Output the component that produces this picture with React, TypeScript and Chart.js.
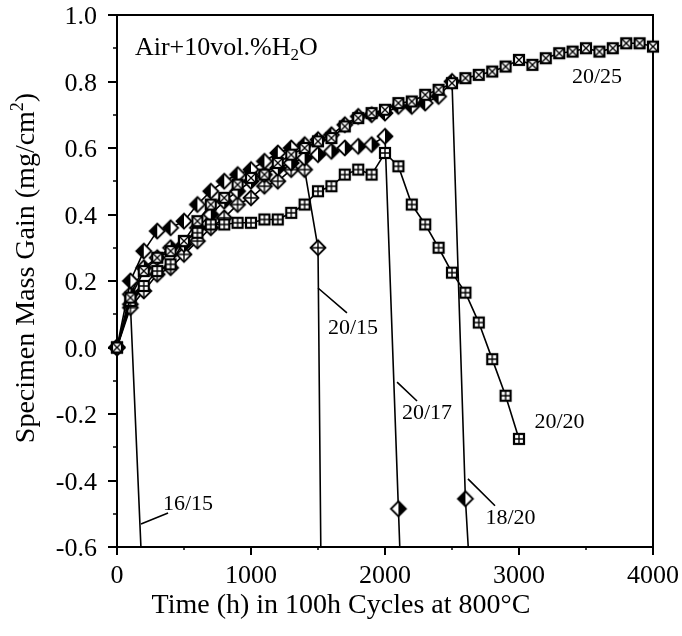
import React, { useEffect, useRef } from "react";
import { Chart, registerables } from "chart.js";
Chart.register(...registerables);

const FONT = "'Liberation Serif', 'Times New Roman', serif";

// ---- data ----
const t2025 = [0,100,200,300,400,500,600,700,800,900,1000,1100,1200,1300,1400,1500,1600,1700,1800,1900,2000,2100,2200,2300,2400,2500,2600,2700,2800,2900,3000,3100,3200,3300,3400,3500,3600,3700,3800,3900,4000];
const v2025 = [0,0.15,0.23,0.27,0.29,0.32,0.38,0.43,0.45,0.49,0.51,0.52,0.555,0.58,0.60,0.62,0.63,0.665,0.69,0.705,0.715,0.735,0.74,0.76,0.775,0.795,0.81,0.82,0.83,0.845,0.865,0.85,0.87,0.885,0.89,0.90,0.89,0.90,0.915,0.915,0.905];

const t2020 = [0,100,200,300,400,500,600,700,800,900,1000,1100,1200,1300,1400,1500,1600,1700,1800,1900,2000,2100,2200,2300,2400,2500,2600,2700,2800,2900,3000];
const v2020 = [0,0.14,0.185,0.23,0.25,0.32,0.345,0.37,0.37,0.375,0.375,0.385,0.385,0.405,0.43,0.47,0.485,0.52,0.535,0.52,0.585,0.545,0.43,0.37,0.30,0.225,0.165,0.075,-0.035,-0.145,-0.275];

const t2015 = [0,100,200,300,400,500,600,700,800,900,1000,1100,1200,1300,1400,1500,1600];
const v2015 = [0,0.12,0.17,0.22,0.24,0.28,0.32,0.36,0.39,0.43,0.45,0.485,0.50,0.535,0.535,0.30,-4.0];

const t1820 = [0,100,200,300,400,500,600,700,800,900,1000,1100,1200,1300,1400,1500,1600,1700,1800,1900,2000,2100,2200,2300,2400,2500,2600,2700];
const v1820 = [0,0.20,0.29,0.35,0.36,0.38,0.43,0.47,0.50,0.52,0.535,0.56,0.585,0.60,0.61,0.625,0.64,0.67,0.695,0.70,0.705,0.725,0.725,0.735,0.755,0.80,-0.455,-1.14];

const t2017 = [0,100,200,300,400,500,600,700,800,900,1000,1100,1200,1300,1400,1500,1600,1700,1800,1900,2000,2100,2200];
const v2017 = [0,0.16,0.24,0.27,0.30,0.31,0.36,0.40,0.44,0.47,0.50,0.52,0.54,0.555,0.57,0.58,0.59,0.60,0.605,0.61,0.635,-0.485,-1.6];

const t1615 = [0,100,200];
const v1615 = [0,0.13,-0.8];

const xTicksMajor = [0,1000,2000,3000,4000];
const xTickLabels = ["0","1000","2000","3000","4000"];
const xTicksMinor = [500,1500,2500,3500];
const yTicksMajor = [-0.6,-0.4,-0.2,0.0,0.2,0.4,0.6,0.8,1.0];
const yTickLabels = ["-0.6","-0.4","-0.2","0.0","0.2","0.4","0.6","0.8","1.0"];
const yTicksMinor = [-0.5,-0.3,-0.1,0.1,0.3,0.5,0.7,0.9];

// label text, anchor (data coords)
const seriesLabels = [
  { text: "20/25", x: 3582, y: 0.814 },
  { text: "20/15", x: 1761, y: 0.058 },
  { text: "20/17", x: 2313, y: -0.197 },
  { text: "20/20", x: 3302, y: -0.224 },
  { text: "18/20", x: 2937, y: -0.513 },
  { text: "16/15", x: 530, y: -0.471 },
];
const leaders = [
  { x1: 1500, y1: 0.179, x2: 1716, y2: 0.104 },
  { x1: 2090, y1: -0.104, x2: 2239, y2: -0.161 },
  { x1: 2619, y1: -0.395, x2: 2821, y2: -0.476 },
  { x1: 179, y1: -0.531, x2: 381, y2: -0.498 },
];

function makeMarker(kind: string): HTMLCanvasElement {
  const s = 20;
  const c = document.createElement("canvas");
  c.width = s; c.height = s;
  const g = c.getContext("2d")!;
  const m = s / 2;
  g.strokeStyle = "#000";
  g.fillStyle = "#fff";
  if (kind === "boxX" || kind === "boxPlus") {
    const h = 5;
    g.lineWidth = 2.2;
    g.fillRect(m - h, m - h, 2 * h, 2 * h);
    g.strokeRect(m - h, m - h, 2 * h, 2 * h);
    g.lineWidth = 1.4;
    g.beginPath();
    if (kind === "boxX") {
      g.moveTo(m - h, m - h); g.lineTo(m + h, m + h);
      g.moveTo(m + h, m - h); g.lineTo(m - h, m + h);
    } else {
      g.moveTo(m, m - h); g.lineTo(m, m + h);
      g.moveTo(m - h, m); g.lineTo(m + h, m);
    }
    g.stroke();
  } else {
    const r = 7.5;
    g.lineWidth = 1.8;
    g.beginPath();
    g.moveTo(m, m - r); g.lineTo(m + r, m); g.lineTo(m, m + r); g.lineTo(m - r, m); g.closePath();
    g.fill();
    if (kind === "diaL" || kind === "diaR") {
      g.fillStyle = "#000";
      g.beginPath();
      const sx = kind === "diaL" ? m - r : m + r;
      g.moveTo(m, m - r); g.lineTo(sx, m); g.lineTo(m, m + r); g.closePath();
      g.fill();
    }
    g.beginPath();
    g.moveTo(m, m - r); g.lineTo(m + r, m); g.lineTo(m, m + r); g.lineTo(m - r, m); g.closePath();
    g.stroke();
    if (kind === "diaPlus") {
      g.lineWidth = 1.4;
      g.beginPath();
      g.moveTo(m, m - r); g.lineTo(m, m + r);
      g.moveTo(m - r, m); g.lineTo(m + r, m);
      g.stroke();
    }
  }
  return c;
}

function pts(t: number[], v: number[]) {
  return t.map((x, i) => ({ x, y: v[i] }));
}

type Part = { t: string; size: number; dy: number };
function drawRich(ctx: CanvasRenderingContext2D, parts: Part[], x: number, y: number, align: "left" | "center") {
  let w = 0;
  for (const p of parts) { ctx.font = `${p.size}px ${FONT}`; w += ctx.measureText(p.t).width; }
  let cx = align === "center" ? x - w / 2 : x;
  ctx.textAlign = "left";
  ctx.textBaseline = "alphabetic";
  for (const p of parts) {
    ctx.font = `${p.size}px ${FONT}`;
    ctx.fillText(p.t, cx, y + p.dy);
    cx += ctx.measureText(p.t).width;
  }
}

export default function App() {
  const ref = useRef<HTMLCanvasElement | null>(null);
  useEffect(() => {
    const canvas = ref.current!;
    const mk = {
      boxX: makeMarker("boxX"),
      boxPlus: makeMarker("boxPlus"),
      diaPlus: makeMarker("diaPlus"),
      diaL: makeMarker("diaL"),
      diaR: makeMarker("diaR"),
    };
    const clip = { left: 14, right: 14, top: 14, bottom: 0 };
    const ds = (label: string, data: any[], style: HTMLCanvasElement) => ({
      label, data, pointStyle: style, showLine: true,
      borderColor: "#000", borderWidth: 1.6, backgroundColor: "#000",
      pointRadius: 7, pointHoverRadius: 7, clip,
    });

    const decor = {
      id: "decor",
      beforeDatasetsDraw(chart: any) {
        const { ctx, chartArea: a, scales } = chart;
        const xs = scales.x, ys = scales.y;
        ctx.save();
        ctx.strokeStyle = "#000";
        ctx.lineWidth = 2;
        ctx.strokeRect(a.left, a.top, a.right - a.left, a.bottom - a.top);
        ctx.lineWidth = 2;
        ctx.beginPath();
        for (const v of yTicksMajor) { const p = Math.round(ys.getPixelForValue(v)); ctx.moveTo(a.left, p); ctx.lineTo(a.left - 9, p); }
        for (const v of xTicksMajor) { const p = Math.round(xs.getPixelForValue(v)); ctx.moveTo(p, a.bottom); ctx.lineTo(p, a.bottom + 8); }
        ctx.stroke();
        ctx.lineWidth = 1.5;
        ctx.beginPath();
        for (const v of yTicksMinor) { const p = Math.round(ys.getPixelForValue(v)); ctx.moveTo(a.left, p); ctx.lineTo(a.left - 4, p); }
        for (const v of xTicksMinor) { const p = Math.round(xs.getPixelForValue(v)); ctx.moveTo(p, a.bottom); ctx.lineTo(p, a.bottom + 3); }
        ctx.stroke();
        // tick labels
        ctx.fillStyle = "#000";
        ctx.font = `26px ${FONT}`;
        ctx.textBaseline = "alphabetic";
        ctx.textAlign = "right";
        yTicksMajor.forEach((v, i) => {
          ctx.fillText(yTickLabels[i], a.left - 20, ys.getPixelForValue(v) + 9);
        });
        ctx.textAlign = "center";
        xTicksMajor.forEach((v, i) => {
          ctx.fillText(xTickLabels[i], xs.getPixelForValue(v), a.bottom + 36);
        });
        ctx.restore();
      },
      afterDatasetsDraw(chart: any) {
        const { ctx, scales } = chart;
        const xs = scales.x, ys = scales.y;
        ctx.save();
        ctx.fillStyle = "#000";
        ctx.strokeStyle = "#000";
        ctx.lineWidth = 1.6;
        ctx.beginPath();
        for (const l of leaders) {
          ctx.moveTo(xs.getPixelForValue(l.x1), ys.getPixelForValue(l.y1));
          ctx.lineTo(xs.getPixelForValue(l.x2), ys.getPixelForValue(l.y2));
        }
        ctx.stroke();
        ctx.font = `22px ${FONT}`;
        ctx.textAlign = "center";
        ctx.textBaseline = "middle";
        for (const l of seriesLabels) {
          ctx.fillText(l.text, xs.getPixelForValue(l.x), ys.getPixelForValue(l.y));
        }
        // condition label
        drawRich(ctx, [
          { t: "Air+10vol.%H", size: 26, dy: 0 },
          { t: "2", size: 17, dy: 5 },
          { t: "O", size: 26, dy: 0 },
        ], xs.getPixelForValue(134), ys.getPixelForValue(0.88), "left");
        // axis titles
        drawRich(ctx, [{ t: "Time (h) in 100h Cycles at 800°C", size: 28, dy: 0 }], 341, 613, "center");
        ctx.translate(34, 268);
        ctx.rotate(-Math.PI / 2);
        drawRich(ctx, [
          { t: "Specimen Mass Gain (mg/cm", size: 28, dy: 0 },
          { t: "2", size: 18, dy: -11 },
          { t: ")", size: 28, dy: 0 },
        ], 0, 0, "center");
        ctx.restore();
      },
    };

    const chart = new Chart(canvas, {
      type: "scatter",
      data: {
        datasets: [
          ds("20/25", pts(t2025, v2025), mk.boxX),
          ds("20/20", pts(t2020, v2020), mk.boxPlus),
          ds("18/20", pts(t1820, v1820), mk.diaL),
          ds("20/17", pts(t2017, v2017), mk.diaR),
          ds("20/15", pts(t2015, v2015), mk.diaPlus),
          ds("16/15", pts(t1615, v1615), mk.diaPlus),
        ] as any,
      },
      options: {
        animation: false,
        responsive: false,
        events: [],
        layout: { padding: { left: 0, right: 29, top: 15, bottom: 0 } },
        plugins: { legend: { display: false }, tooltip: { enabled: false } },
        scales: {
          x: {
            type: "linear", min: 0, max: 4000,
            border: { display: false },
            grid: { display: false, drawTicks: false },
            ticks: { display: false, stepSize: 1000 },
            afterFit: (s: any) => { s.height = 89; },
          },
          y: {
            type: "linear", min: -0.6, max: 1.0,
            border: { display: false },
            grid: { display: false, drawTicks: false },
            ticks: { display: false, stepSize: 0.2 },
            afterFit: (s: any) => { s.width = 117; },
          },
        },
      },
      plugins: [decor],
    });
    return () => chart.destroy();
  }, []);
  return (
    <div style={{ position: "fixed", left: 0, top: 0, width: 682, height: 636, background: "#fff" }}>
      <canvas ref={ref} width={682} height={636} style={{ width: 682, height: 636, display: "block" }} />
    </div>
  );
}
